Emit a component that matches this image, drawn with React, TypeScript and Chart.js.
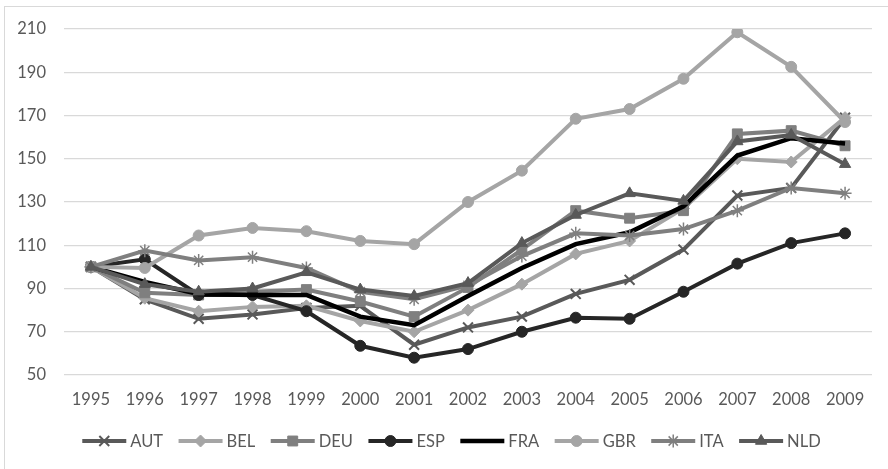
import React, { useEffect, useRef } from 'react';
import { Chart, registerables } from 'chart.js';
import { drawPoint } from 'chart.js/helpers';

Chart.register(...registerables);

const years = ['1995', '1996', '1997', '1998', '1999', '2000', '2001', '2002', '2003', '2004', '2005', '2006', '2007', '2008', '2009'];

const AUT = [100, 85, 76, 78, 81, 82, 64, 72, 77, 87.5, 94, 108, 133, 136.5, 169];
const BEL = [100, 85.5, 79.5, 81.5, 82, 75, 70, 80, 92, 106, 112, 127, 150, 148.5, 169];
const DEU = [100, 88, 87, 88.5, 89.5, 84, 77, 90.5, 108, 126, 122.5, 126, 161.5, 163, 156];
const ESP = [100, 103.5, 87, 87, 79.5, 63.5, 58, 62, 70, 76.5, 76, 88.5, 101.5, 111, 115.5];
const FRA = [100, 93, 87.5, 87, 87, 77, 73, 86.5, 99.5, 110.5, 116, 128, 151.5, 159.5, 157];
const GBR = [100, 99.5, 114.5, 118, 116.5, 112, 110.5, 130, 144.5, 168.5, 173, 187, 208.5, 192.5, 167];
const ITA = [100, 107.5, 103, 104.5, 99.5, 88.5, 85, 91.5, 105, 115.5, 114.5, 117.5, 126, 136.5, 134];
const NLD = [100, 92, 88.5, 90, 97.5, 89.5, 86.5, 92.5, 111, 124, 134, 130.5, 158, 161, 147.5];

const seriesNames = ['AUT', 'BEL', 'DEU', 'ESP', 'FRA', 'GBR', 'ITA', 'NLD'];
const seriesValues = [AUT, BEL, DEU, ESP, FRA, GBR, ITA, NLD];

const Y_MIN = 50;
const Y_MAX = 210;
const Y_STEP = 20;

const FONT_FAMILY = 'Lato, "Open Sans", sans-serif';
const FONT_SIZE = 16.5;
const TEXT_COLOR = '#595959';

const styles = [
  { color: '#595959', pointStyle: 'crossRot', radius: 7, pbw: 2 },
  { color: '#a5a5a5', pointStyle: 'rectRot', radius: 6, pbw: 1 },
  { color: '#7f7f7f', pointStyle: 'rect', radius: 7, pbw: 1 },
  { color: '#262626', pointStyle: 'circle', radius: 5.5, pbw: 1 },
  { color: '#000000', pointStyle: 'circle', radius: 0, pbw: 0 },
  { color: '#a5a5a5', pointStyle: 'circle', radius: 5.5, pbw: 1 },
  { color: '#7f7f7f', pointStyle: 'star', radius: 6.5, pbw: 1.5 },
  { color: '#595959', pointStyle: 'triangle', radius: 6.5, pbw: 1 },
];

const frameAndLegend = {
  id: 'frameAndLegend',
  afterDraw(chart: any) {
    const ctx = chart.ctx;
    ctx.save();
    ctx.strokeStyle = '#d9d9d9';
    ctx.lineWidth = 1;
    ctx.strokeRect(4.5, 6.5, 884, 463);

    ctx.font = `${FONT_SIZE}px ${FONT_FAMILY}`;
    ctx.textBaseline = 'middle';
    const lineLen = 44;
    const textGap = 4;
    const itemGap = 15.5;
    const dss = chart.data.datasets;
    const widths = dss.map((ds: any) => lineLen + textGap + ctx.measureText(ds.label).width);
    const total = widths.reduce((a: number, b: number) => a + b, 0) + itemGap * (widths.length - 1);
    let x = 451.5 - total / 2;
    const y = 441;
    dss.forEach((ds: any, i: number) => {
      ctx.strokeStyle = ds.borderColor;
      ctx.lineWidth = ds.borderWidth;
      ctx.lineCap = 'butt';
      ctx.beginPath();
      ctx.moveTo(x, y);
      ctx.lineTo(x + lineLen, y);
      ctx.stroke();
      if (ds.pointRadius > 0) {
        ctx.fillStyle = ds.pointBackgroundColor;
        ctx.strokeStyle = ds.pointBorderColor;
        ctx.lineWidth = ds.pointBorderWidth;
        drawPoint(
          ctx,
          { pointStyle: ds.pointStyle, rotation: 0, radius: ds.pointRadius, borderWidth: ds.pointBorderWidth },
          x + lineLen / 2,
          y
        );
      }
      ctx.fillStyle = TEXT_COLOR;
      ctx.fillText(ds.label, x + lineLen + textGap, y + 1);
      x += widths[i] + itemGap;
    });
    ctx.restore();
  },
};

export default function App() {
  const ref = useRef<HTMLCanvasElement>(null);

  useEffect(() => {
    if (!ref.current) return;
    const datasets = seriesNames.map((name, i) => ({
      label: name,
      data: seriesValues[i],
      borderColor: styles[i].color,
      backgroundColor: styles[i].color,
      borderWidth: i === 4 ? 4.5 : 4,
      pointStyle: styles[i].pointStyle,
      pointRadius: styles[i].radius,
      pointHoverRadius: styles[i].radius,
      pointBackgroundColor: styles[i].color,
      pointBorderColor: styles[i].color,
      pointBorderWidth: styles[i].pbw,
      tension: 0,
      fill: false,
      order: seriesNames.length - 1 - i,
    }));

    const chart = new Chart(ref.current, {
      type: 'line',
      data: { labels: years, datasets },
      options: {
        responsive: false,
        animation: false,
        events: [],
        layout: { padding: { top: 29, right: 16, left: 0, bottom: 0 } },
        plugins: {
          legend: { display: false },
          tooltip: { enabled: false },
          title: { display: false },
        },
        scales: {
          x: {
            type: 'category',
            offset: true,
            grid: { display: false },
            border: { display: false },
            ticks: {
              color: TEXT_COLOR,
              font: { family: FONT_FAMILY, size: FONT_SIZE },
              padding: 7,
              maxRotation: 0,
              autoSkip: false,
            },
            afterFit(scale: any) {
              scale.height = 94;
            },
          },
          y: {
            min: Y_MIN,
            max: Y_MAX,
            border: { display: false },
            grid: { color: '#d9d9d9', lineWidth: 1.2, drawTicks: false },
            ticks: {
              stepSize: Y_STEP,
              color: TEXT_COLOR,
              font: { family: FONT_FAMILY, size: FONT_SIZE },
              padding: 18,
            },
            afterFit(scale: any) {
              scale.width = 64;
            },
          },
        },
      },
      plugins: [frameAndLegend],
    } as any);
    return () => chart.destroy();
  }, []);

  return (
    <div style={{ position: 'absolute', left: 0, top: 0, width: 888, height: 469, background: '#fff' }}>
      <canvas ref={ref} width={888} height={469} style={{ display: 'block' }} />
    </div>
  );
}
